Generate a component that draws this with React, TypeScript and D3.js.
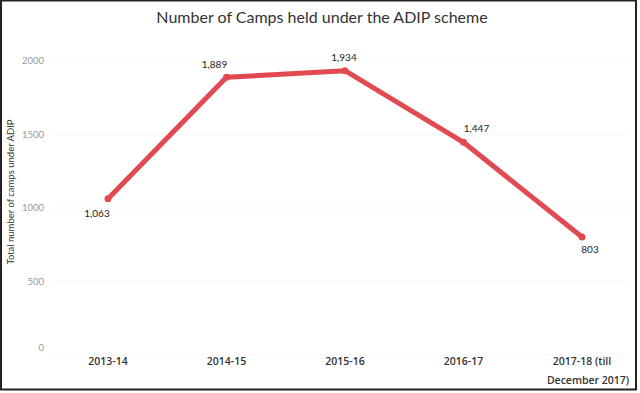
import React from 'react';
import * as d3 from 'd3';

const years = ['2013-14', '2014-15', '2015-16', '2016-17', '2017-18 (till December 2017)'];
const camps = [1063, 1889, 1934, 1447, 803];
const yTicks = [0, 500, 1000, 1500, 2000];

const W = 640;
const H = 393;
const FONT = 'Lato, "Open Sans", sans-serif';

const App = () => {
  const x = d3.scalePoint<string>().domain(years).range([108, 582]);
  const y = d3.scaleLinear().domain([0, 2000]).range([355, 61]);

  const line = d3
    .line<number>()
    .x((d, i) => x(years[i]) as number)
    .y((d) => y(d));

  const fmt = d3.format(',');

  // label placement around each point, like the original
  const labelPos = [
    { dx: -11, dy: 18 },
    { dx: -12, dy: -9 },
    { dx: -1, dy: -10 },
    { dx: 13, dy: -10 },
    { dx: 8, dy: 16 },
  ];

  return (
    <svg
      width={W}
      height={H}
      style={{ position: 'absolute', left: 0, top: 0, background: '#fff' }}
      fontFamily={FONT}
    >
      <rect x={0} y={0} width={W} height={H} fill="#fff" />
      <rect x={1} y={0.5} width={635} height={389} fill="none" stroke="#222" strokeWidth={2} />

      <text x={322} y={23} textAnchor="middle" fontSize={16} fill="#333">
        Number of Camps held under the ADIP scheme
      </text>

      {yTicks.map((t) => (
        <g key={t}>
          <line x1={52} x2={630} y1={y(t)} y2={y(t)} stroke="#f6f6f6" />
          <text
            x={44}
            y={t === 0 ? y(t) - 7 : y(t)}
            dy="0.35em"
            textAnchor="end"
            fontSize={9.5}
            fill="#999"
          >
            {t}
          </text>
        </g>
      ))}

      <text
        transform="translate(14,192) rotate(-90)"
        textAnchor="middle"
        fontSize={9.5}
        fill="#333"
      >
        Total number of camps under ADIP
      </text>

      {years.map((yr) => {
        const parts = yr.includes('(') ? ['2017-18 (till', 'December 2017)'] : [yr];
        return (
          <text
            key={yr}
            x={x(yr)}
            y={365}
            textAnchor="middle"
            fontSize={10.5}
            fontWeight={600}
            fontFamily='"Open Sans", sans-serif'
            fill="#333"
          >
            {parts.map((p, i) => (
              <tspan key={p} x={(x(yr) as number) + (i === 0 ? 0 : 6)} dy={i === 0 ? 0 : 19}>
                {p}
              </tspan>
            ))}
          </text>
        );
      })}

      <path
        d={line(camps) ?? ''}
        fill="none"
        stroke="#e04a50"
        strokeWidth={5}
        strokeLinejoin="round"
        strokeLinecap="round"
      />
      {camps.map((v, i) => (
        <circle key={i} cx={x(years[i])} cy={y(v)} r={3.5} fill="#e04a50" />
      ))}

      {camps.map((v, i) => (
        <text
          key={'l' + i}
          x={(x(years[i]) as number) + labelPos[i].dx}
          y={y(v) + labelPos[i].dy}
          textAnchor="middle"
          fontSize={10}
          fill="#222"
        >
          {fmt(v)}
        </text>
      ))}
    </svg>
  );
};

export default App;
